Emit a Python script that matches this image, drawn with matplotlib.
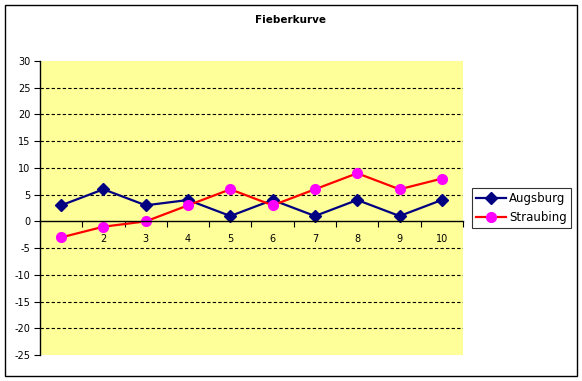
import matplotlib
matplotlib.use("Agg")
import matplotlib.pyplot as plt
from matplotlib.patches import Rectangle

# data
days = [1, 2, 3, 4, 5, 6, 7, 8, 9, 10]
augsburg = [3, 6, 3, 4, 1, 4, 1, 4, 1, 4]
straubing = [-3, -1, 0, 3, 6, 3, 6, 9, 6, 8]
y_ticks = [-25, -20, -15, -10, -5, 0, 5, 10, 15, 20, 25, 30]

W, H = 582, 381
fig = plt.figure(figsize=(W / 100, H / 100), dpi=100)
fig.patch.set_facecolor("white")

# outer chart border
fig.add_artist(Rectangle((5 / W, 5 / H), 572 / W, 371 / H, transform=fig.transFigure,
                         fill=False, edgecolor="black", linewidth=1.0))

ax = fig.add_axes([40 / W, 26 / H, 423 / W, 294 / H])
ax.set_facecolor("#FFFF99")

ax.plot(days, augsburg, color="#000080", lw=1.6, marker="D", ms=6, label="Augsburg")
ax.plot(days, straubing, color="#FF0000", lw=1.6, marker="o", ms=7,
        mfc="#FF00FF", mec="#FF00FF", label="Straubing")

ax.set_xlim(0.5, 10.5)
ax.set_ylim(-25, 30)
ax.set_yticks(y_ticks)
ax.set_yticklabels([str(v) for v in y_ticks], fontsize=7)

for v in y_ticks:
    if v not in (0, 30, -25):
        ax.axhline(v, color="black", lw=0.8, ls=(0, (3, 2)), zorder=0.5)

ax.spines["top"].set_visible(False)
ax.spines["right"].set_visible(False)
ax.spines["bottom"].set_position(("data", 0))
ax.spines["bottom"].set_linewidth(1.0)
ax.spines["left"].set_linewidth(1.0)

ax.set_xticks([d + 0.5 for d in [0] + days])
ax.set_xticklabels([])
ax.set_xticks(days, minor=True)
ax.set_xticklabels([str(d) for d in days], minor=True, fontsize=7)
ax.tick_params(axis="x", which="major", direction="out", length=4, width=0.8)
ax.tick_params(axis="x", which="minor", length=0, pad=9)
ax.tick_params(axis="y", direction="out", length=4, width=0.8, pad=3)

fig.text(290 / W, 1 - 20 / H, "Fieberkurve", ha="center", va="center",
         fontsize=7.5, fontweight="bold")

leg = fig.legend(loc="center left", bbox_to_anchor=(472 / W, 1 - 208 / H),
                 fontsize=8.5, frameon=True, fancybox=False, edgecolor="black",
                 handlelength=2.5, borderpad=0.35, labelspacing=0.5,
                 handletextpad=0.3, borderaxespad=0)
leg.get_frame().set_linewidth(0.8)

fig.savefig("out.png", dpi=100)
